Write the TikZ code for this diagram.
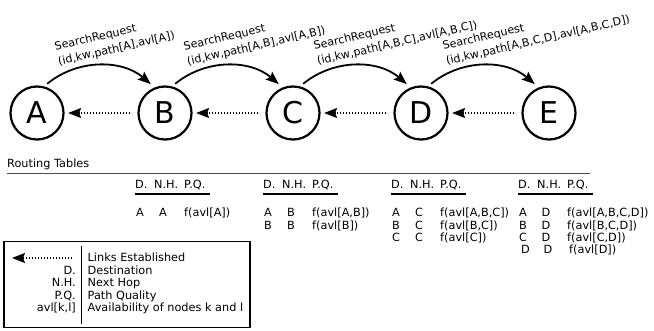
\documentclass[tikz,border=0pt]{standalone}
\usepackage{fontspec}
\setmainfont{DejaVu Sans}
\usetikzlibrary{arrows.meta}

\begin{document}
\begin{tikzpicture}[x=1pt,y=-1pt,
  every node/.style={font=\fontsize{11.3}{15.5}\selectfont, inner sep=0pt},
  peer/.style={circle, draw, line width=2.2pt, minimum size=53pt,
               font=\fontsize{30}{30}\selectfont},
  tip/.style={-{Stealth[length=13pt,width=10pt,inset=2pt]}},
  reqarrow/.style={tip, line width=1.8pt, shorten <=4pt, shorten >=5pt},
  linkarrow/.style={tip, line width=1.5pt, dash pattern=on 1.5pt off 1.5pt},
  reqlabel/.style={rotate=13, anchor=base west,
                   font=\fontsize{11.1}{15.5}\selectfont},
  cell/.style={anchor=base west},
  midcell/.style={anchor=base},
  keycell/.style={anchor=base east},
  hrule/.style={line width=1.1pt},
  toprule/.style={line width=1.4pt, draw=black!70},
]
\useasboundingbox (0,0) rectangle (654,331);

% peers along the search path
\node[peer] (A) at (37,113) {A};
\node[peer] (B) at (165,113) {B};
\node[peer] (C) at (293,113) {C};
\node[peer] (D) at (421,113) {D};
\node[peer] (E) at (549,113) {E};

% forwarded search requests
\draw[reqarrow] (A.75) to[bend left=40] (B.112);
\draw[reqarrow] (B.75) to[bend left=40] (C.112);
\draw[reqarrow] (C.75) to[bend left=40] (D.112);
\draw[reqarrow] (D.75) to[bend left=40] (E.112);

\node[reqlabel] (lab1) at (59,65.5)
  {\begin{tabular}[b]{@{}l@{}}SearchRequest\\(id,kw,path[A],avl[A])\end{tabular}};
\node[reqlabel] (lab2) at (188,65.5)
  {\begin{tabular}[b]{@{}l@{}}SearchRequest\\(id,kw,path[A,B],avl[A,B])\end{tabular}};
\node[reqlabel] (lab3) at (318,65)
  {\begin{tabular}[b]{@{}l@{}}SearchRequest\\(id,kw,path[A,B,C],avl[A,B,C])\end{tabular}};
\node[reqlabel] (lab4) at (447,65)
  {\begin{tabular}[b]{@{}l@{}}SearchRequest\\(id,kw,path[A,B,C,D],avl[A,B,C,D])\end{tabular}};

% established reverse links
\draw[linkarrow, shorten <=7pt, shorten >=3.5pt] (B) -- (A);
\draw[linkarrow, shorten <=7pt, shorten >=3.5pt] (C) -- (B);
\draw[linkarrow, shorten <=7pt, shorten >=3.5pt] (D) -- (C);
\draw[linkarrow, shorten <=7pt, shorten >=3.5pt] (E) -- (D);

% routing tables
\node[cell] (rt) at (7,168) {Routing Tables};
\draw[toprule] (7,173.3) -- (590,173.3);

\foreach \t/\x in {1/135,2/263,3/391,4/518} {
  \node[cell] (h\t d) at (\x,189) {D.};
  \node[cell] (h\t n) at (\x+19,189) {N.H.};
  \node[cell] (h\t p) at (\x+49,189) {P.Q.};
  \draw[hrule] (\x,194) -- (\x+75,194);
}

\foreach \t/\x/\r/\y/\dd/\nh/\pq/\s in {
  1/135/1/217/A/A/{f(avl[A])}/0,
  2/263/1/217/A/B/{f(avl[A,B])}/0,
  2/263/2/229.3/B/B/{f(avl[B])}/0,
  3/391/1/217/A/C/{f(avl[A,B,C])}/0,
  3/391/2/229.3/B/C/{f(avl[B,C])}/0,
  3/391/3/241.6/C/C/{f(avl[C])}/0,
  4/518/1/217/A/D/{f(avl[A,B,C,D])}/0,
  4/518/2/229.3/B/D/{f(avl[B,C,D])}/0,
  4/518/3/241.6/C/D/{f(avl[C,D])}/0,
  4/518/4/253.9/D/D/{f(avl[D])}/2} {
  \node[cell] (r\t\r d) at (\x+1+\s,\y) {\dd};
  \node[midcell] (r\t\r n) at (\x+28+\s,\y) {\nh};
  \node[cell] (r\t\r p) at (\x+49+\s,\y) {\pq};
}

% legend
\draw[line width=1.6pt] (4,241.5) rectangle (250,327.5);
\draw[line width=1.1pt] (81.5,246) -- (81.5,324);
\coordinate (ls) at (72,258);
\coordinate (le) at (12,258);
\draw[linkarrow] (ls) -- (le);
\node[cell] (k1) at (87.5,262) {Links Established};
\node[keycell] (s2) at (76,274.5) {D.};
\node[cell] (k2) at (87.5,274.5) {Destination};
\node[keycell] (s3) at (76,287) {N.H.};
\node[cell] (k3) at (87.5,287) {Next Hop};
\node[keycell] (s4) at (76,299.5) {P.Q.};
\node[cell] (k4) at (87.5,299.5) {Path Quality};
\node[keycell] (s5) at (76,312) {avl[k,l]};
\node[cell] (k5) at (87.5,312) {Availability of nodes k and l};
\end{tikzpicture}
\end{document}
